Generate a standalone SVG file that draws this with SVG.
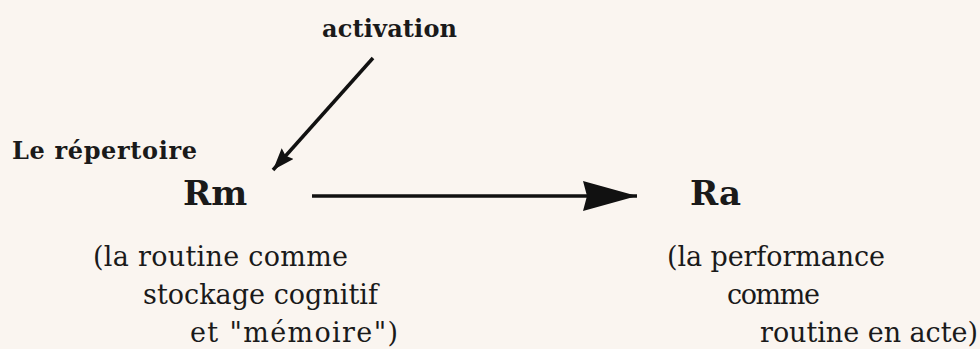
<svg xmlns="http://www.w3.org/2000/svg" width="980" height="349" viewBox="0 0 980 349">
<style>
text{font-family:"DejaVu Serif","Liberation Serif",serif;fill:#1a1a1a}
.lab{font-size:24px;font-weight:bold}
.big{font-size:34px;font-weight:bold}
.cap{font-size:27px}
.conn{stroke:#111;stroke-width:3.5;fill:none}
</style>
<defs>
<marker id="ah" markerUnits="userSpaceOnUse" markerWidth="60" markerHeight="32" refX="54" refY="15" orient="auto">
<path d="M0,0 L54,15 L0,30 L4,15 Z" fill="#111"/>
</marker>
<marker id="ah2" markerUnits="userSpaceOnUse" markerWidth="26" markerHeight="16" refX="22" refY="8" orient="auto">
<path d="M0,0 L22,8 L0,16 L3,8 Z" fill="#111"/>
</marker>
</defs>
<rect width="980" height="349" fill="#faf5f0"/>
<g id="connectors">
<line class="conn" x1="312" y1="196" x2="637" y2="196" marker-end="url(#ah)"/>
<line class="conn" x1="373" y1="58" x2="273" y2="170" stroke-width="3" marker-end="url(#ah2)"/>
</g>
<g id="activation"><text class="lab" x="322" y="37" textLength="135">activation</text></g>
<g id="repertoire"><text class="lab" x="12" y="159" textLength="185">Le répertoire</text></g>
<g id="Rm">
<text class="big" x="183" y="205">Rm</text>
<text class="cap" x="93" y="266" textLength="255">(la routine comme</text>
<text class="cap" x="143" y="304" textLength="235">stockage cognitif</text>
<text class="cap" x="190" y="342" textLength="208">et "mémoire")</text>
</g>
<g id="Ra">
<text class="big" x="690" y="205">Ra</text>
<text class="cap" x="667" y="266" textLength="218">(la performance</text>
<text class="cap" x="727" y="304" textLength="93">comme</text>
<text class="cap" x="760" y="342" textLength="218">routine en acte)</text>
</g>
</svg>
